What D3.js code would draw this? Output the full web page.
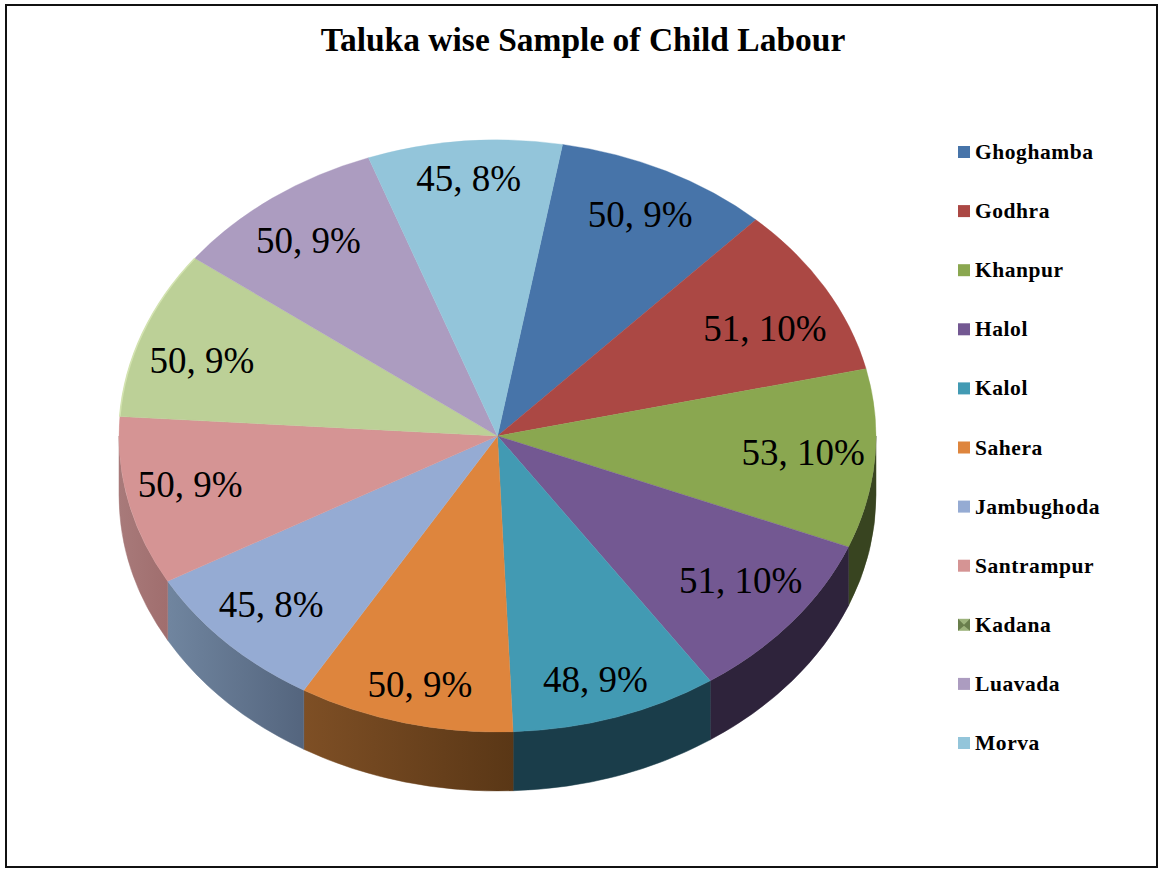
<!DOCTYPE html>
<html><head><meta charset="utf-8">
<script src="https://cdnjs.cloudflare.com/ajax/libs/d3/7.8.5/d3.min.js"></script>
<style>html,body{margin:0;padding:0;background:#fff}svg{display:block}text{font-family:"Liberation Serif",serif;fill:#000}</style>
</head><body><svg id="c" width="1162" height="869"></svg>
<script>
const title = "Taluka wise Sample of Child Labour";
const categories = ["Ghoghamba","Godhra","Khanpur","Halol","Kalol","Sahera","Jambughoda","Santrampur","Kadana","Luavada","Morva"];
const values = [50,51,53,51,48,50,45,50,50,50,45];
const percents = ["9%","10%","10%","10%","9%","9%","8%","9%","9%","9%","8%"];
const topColors = ["#4774a9","#ab4844","#8aa750","#735892","#429ab3","#de853d","#95abd3","#d59494","#bcd097","#ac9cc0","#93c5da"];
const wallLeft = ["#2b4666","#672b29","#384420","#2e233b","#1a3d4a","#7e4f25","#70859f","#a87a7a","#7a8a5c","#6d6080","#5a8494"];
const wallRight = ["#2b4666","#672b29","#384420","#2e233b","#1a3d4a","#5a3716","#54657e","#a06e6e","#7a8a5c","#6d6080","#5a8494"];

const W = 1162, H = 869, cx = 497.5, cy = 436, rx = 378.5, ry = 296, depth = 59;
const startDeg = 9.9;
const svg = d3.select("#c");
svg.append("rect").attr("x",6).attr("y",5).attr("width",1151).attr("height",862)
  .attr("fill","#fff").attr("stroke","#111").attr("stroke-width",2);
svg.append("text").attr("x",583).attr("y",51).attr("text-anchor","middle")
  .attr("font-size",33.5).attr("font-weight",700).text(title);

const rad = Math.PI/180;
const pie = d3.pie().sort(null).startAngle(startDeg*rad).endAngle((startDeg+360)*rad);
const arcs = pie(values);
const px = a => cx + rx*Math.sin(a), py = a => cy - ry*Math.cos(a);

const defs = svg.append("defs");
const walls = svg.append("g"), tops = svg.append("g").attr("transform",`translate(${cx},${cy}) scale(1,${ry/rx})`), labels = svg.append("g");
const lo = 90*rad, hi = 270*rad;
arcs.forEach((d,i)=>{
  const a0 = Math.max(d.startAngle,lo), a1 = Math.min(d.endAngle,hi);
  if(a1<=a0) return;
  const g = defs.append("linearGradient").attr("id","w"+i).attr("gradientUnits","userSpaceOnUse")
    .attr("x1",Math.min(px(a0),px(a1))).attr("x2",Math.max(px(a0),px(a1))).attr("y1",0).attr("y2",0);
  g.append("stop").attr("offset",0).attr("stop-color",wallLeft[i]);
  g.append("stop").attr("offset",1).attr("stop-color",wallRight[i]);
  walls.append("path").attr("fill",`url(#w${i})`).attr("stroke",`url(#w${i})`).attr("stroke-width",0.5).attr("d",
    `M${px(a0)},${py(a0)}A${rx},${ry} 0 0 1 ${px(a1)},${py(a1)}L${px(a1)},${py(a1)+depth}A${rx},${ry} 0 0 0 ${px(a0)},${py(a0)+depth}Z`);
});
const arcGen = d3.arc().innerRadius(0).outerRadius(rx);
tops.selectAll("path").data(arcs).join("path").attr("d",arcGen)
  .attr("fill",(d,i)=>topColors[i]).attr("stroke",(d,i)=>topColors[i]).attr("stroke-width",0.4);
// pale rim on the Kadana slice
const k = arcs[categories.indexOf("Kadana")];
svg.append("path").attr("fill","none").attr("stroke","#d3e3b0").attr("stroke-width",1.6)
  .attr("d",`M${px(k.startAngle)},${py(k.startAngle)}A${rx},${ry} 0 0 1 ${px(k.endAngle)},${py(k.endAngle)}`);

// hand placement of each data label relative to its slice's anchor
const labelNudge = [[-3,7],[-7,16],[0,-3],[-6,-13],[-5,-1],[3,-1],[4,-8],[-5,-6],[-2,9],[4,8],[0,-2]];
arcs.forEach((d,i)=>{
  const m = (d.startAngle+d.endAngle)/2;
  const r = 0.805 + 0.065*Math.abs(Math.cos(m));
  labels.append("text").attr("x",cx+rx*r*Math.sin(m)+labelNudge[i][0]).attr("y",cy-ry*r*Math.cos(m)+13+labelNudge[i][1])
    .attr("text-anchor","middle").attr("font-size",37).text(values[i]+", "+percents[i]);
});

const ly = d3.scalePoint().domain(categories).range([152,743]);
const leg = svg.append("g").selectAll("g").data(categories).join("g").attr("transform",d=>`translate(958,${ly(d)})`);
leg.append("rect").attr("x",0).attr("y",-6).attr("width",12).attr("height",12).attr("fill",(d,i)=>i===8?"#9db37c":topColors[i]);
leg.filter(d=>d==="Kadana").append("path").attr("d","M0,-6L6,0L12,-6L12,6L6,1L0,6Z").attr("fill","#5d7040").attr("opacity",.8);
leg.append("text").attr("x",17).attr("y",7).attr("font-size",21.5).attr("letter-spacing",0.55).attr("font-weight",700).text(d=>d);
</script></body></html>
